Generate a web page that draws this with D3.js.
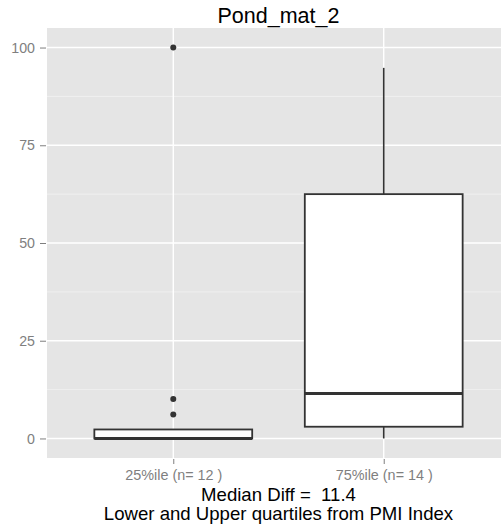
<!DOCTYPE html>
<html><head><meta charset="utf-8">
<script src="https://cdn.jsdelivr.net/npm/d3@7"></script>
<style>body{margin:0;background:#fff}svg{display:block}</style>
</head><body>
<svg id="c" width="501" height="529"></svg>
<script>
const categories = ["25%ile (n= 12 )", "75%ile (n= 14 )"];
const q1 = [0, 3.0];
const medians = [0, 11.5];
const q3 = [2.3, 62.5];
const whiskerLow = [0, 0];
const whiskerHigh = [2.3, 94.8];
const outliers = [[100, 10.1, 6.1], []];
const yTicks = [0, 25, 50, 75, 100];
const yMinor = [12.5, 37.5, 62.5, 87.5];
const title = "Pond_mat_2";
const xTitle = ["Median Diff =  11.4", "Lower and Upper quartiles from PMI Index"];

const svg = d3.select("#c");
const L = 47, R = 510, T = 28, B = 458;
const font = "'Liberation Sans', Arial, sans-serif";
const y = d3.scaleLinear().domain([-5, 105]).range([B, T]);
const x = d3.scalePoint().domain(categories).range([L, R]).padding(0.6);
const bw = x.step() * 0.75;

svg.append("rect").attr("x", L).attr("y", T).attr("width", R - L).attr("height", B - T).attr("fill", "#e5e5e5");
svg.selectAll(".minor").data(yMinor).join("line").attr("x1", L).attr("x2", R)
  .attr("y1", d => y(d)).attr("y2", d => y(d)).attr("stroke", "#f2f2f2").attr("stroke-width", 0.8);
svg.selectAll(".major").data(yTicks).join("line").attr("x1", L).attr("x2", R)
  .attr("y1", d => y(d)).attr("y2", d => y(d)).attr("stroke", "#fff").attr("stroke-width", 1.4);
svg.selectAll(".vmajor").data(categories).join("line").attr("y1", T).attr("y2", B)
  .attr("x1", d => x(d)).attr("x2", d => x(d)).attr("stroke", "#fff").attr("stroke-width", 1.4);

// axes
const yAxis = d3.axisLeft(y).tickValues(yTicks).tickSize(6).tickPadding(5);
const gy = svg.append("g").attr("transform", `translate(${L - 1},0)`).call(yAxis);
gy.select(".domain").remove();
gy.selectAll("line").attr("stroke", "#7f7f7f");
gy.selectAll("text").attr("fill", "#7f7f7f").style("font", `14.2px ${font}`);

const xAxis = d3.axisBottom(x).tickSize(5).tickPadding(6);
const gx = svg.append("g").attr("transform", `translate(0,${B + 1})`).call(xAxis);
gx.select(".domain").remove();
gx.selectAll("line").attr("stroke", "#7f7f7f");
gx.selectAll("text").attr("fill", "#7f7f7f").style("font", `14.4px ${font}`).style("white-space", "pre");

// boxes
const idx = d3.range(categories.length);
const g = svg.append("g");
g.selectAll(".wl").data(idx).join("line")
  .attr("x1", i => x(categories[i])).attr("x2", i => x(categories[i]))
  .attr("y1", i => y(whiskerLow[i])).attr("y2", i => y(q1[i]))
  .attr("stroke", "#333").attr("stroke-width", 1.6);
g.selectAll(".wh").data(idx).join("line")
  .attr("x1", i => x(categories[i])).attr("x2", i => x(categories[i]))
  .attr("y1", i => y(whiskerHigh[i])).attr("y2", i => y(q3[i]))
  .attr("stroke", "#333").attr("stroke-width", 1.6);
g.selectAll(".box").data(idx).join("rect")
  .attr("x", i => x(categories[i]) - bw / 2).attr("width", bw)
  .attr("y", i => y(q3[i])).attr("height", i => y(q1[i]) - y(q3[i]))
  .attr("fill", "#fff").attr("stroke", "#333").attr("stroke-width", 1.8);
g.selectAll(".med").data(idx).join("line")
  .attr("x1", i => x(categories[i]) - bw / 2).attr("x2", i => x(categories[i]) + bw / 2)
  .attr("y1", i => y(medians[i])).attr("y2", i => y(medians[i]))
  .attr("stroke", "#333").attr("stroke-width", 3);
idx.forEach(i => {
  g.selectAll(null).data(outliers[i]).join("circle")
    .attr("cx", x(categories[i])).attr("cy", d => y(d)).attr("r", 3).attr("fill", "#333");
});

svg.append("text").attr("x", (L + R) / 2).attr("y", 23).attr("text-anchor", "middle")
  .style("font", `21.5px ${font}`).attr("fill", "#000").text(title);
svg.selectAll(".xt").data(xTitle).join("text")
  .attr("x", (L + R) / 2).attr("y", (d, i) => 500.5 + i * 19.5).attr("text-anchor", "middle")
  .style("font", `18.6px ${font}`).style("white-space", "pre").attr("fill", "#000").text(d => d);
</script>
</body></html>
